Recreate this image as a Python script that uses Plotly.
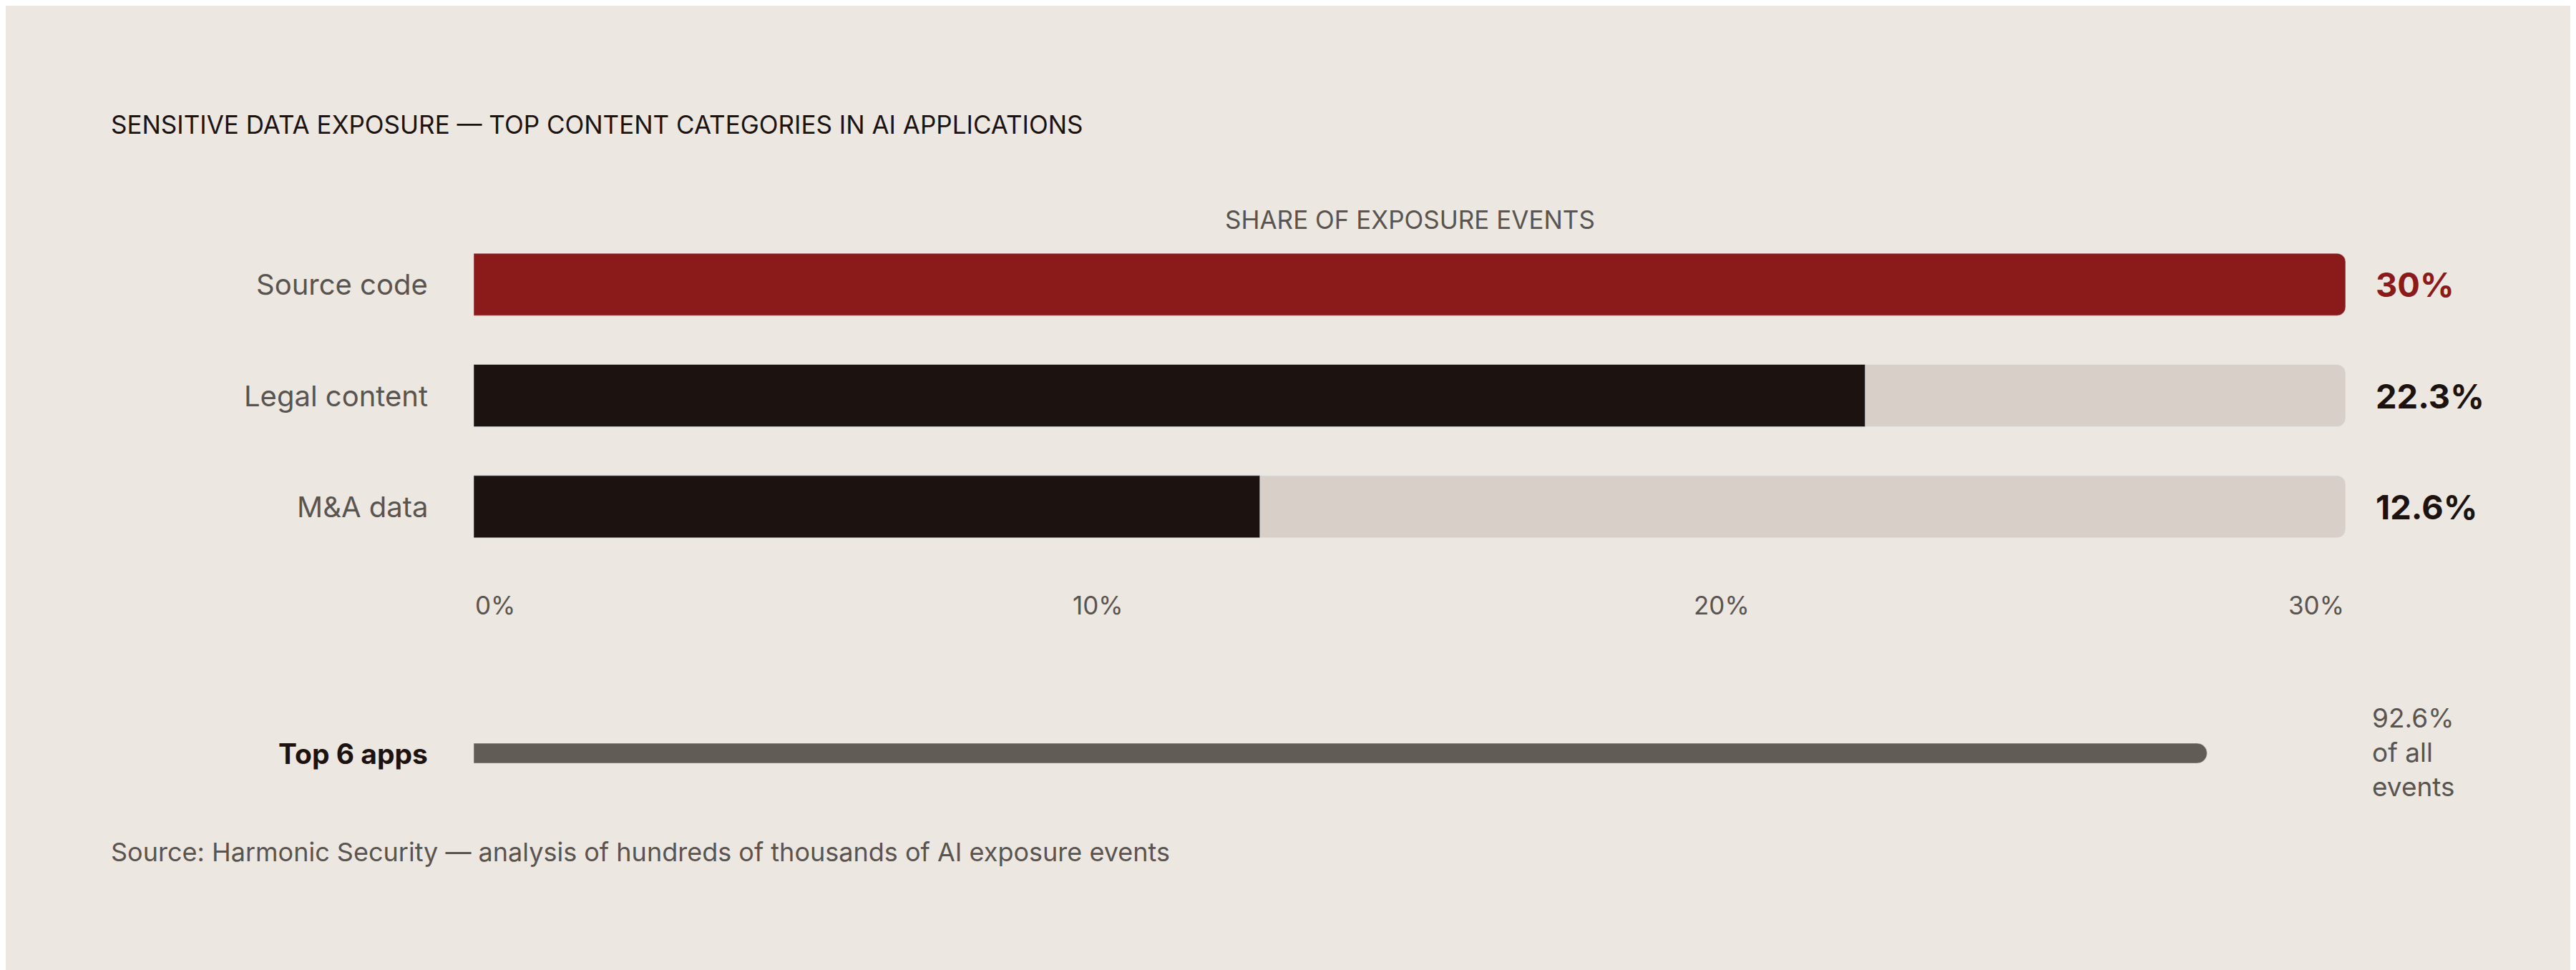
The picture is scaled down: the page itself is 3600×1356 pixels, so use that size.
import plotly.graph_objects as go

categories = ["Source code", "Legal content", "M&A data"]
values = [30, 22.3, 12.6]
value_labels = ["30%", "22.3%", "12.6%"]
axis_max = 30
tick_vals = [0, 10, 20, 30]
tick_text = ["0%", "10%", "20%", "30%"]
top_label = "Top 6 apps"
top_value = 92.6

W, H = 3600, 1356
BG = "#ECE7E0"
RED = "#8B1A1A"
DARK = "#1C1311"
TRACK = "#D8CFC8"
GREY = "#625C56"
TXT = "#5A5450"
FONT = "Inter"

def px(x):
    return x / W
def py(y):
    return 1 - y / H

x0, x1 = 654, 3270
fig = go.Figure()
fig.add_bar(y=list(range(3)), x=[axis_max]*3, orientation="h", marker=dict(color=TRACK, cornerradius=12),
            width=0.56, hoverinfo="skip", xaxis="x", yaxis="y")
fig.add_bar(y=list(range(3)), x=values, orientation="h",
            marker=dict(color=[RED, DARK, DARK], cornerradius=12), width=0.56, xaxis="x", yaxis="y")
fig.add_bar(y=[0], x=[top_value], orientation="h", marker=dict(color=GREY, cornerradius=14),
            width=0.5, xaxis="x2", yaxis="y2")

ann = []
ann.append(dict(text="SENSITIVE DATA EXPOSURE — TOP CONTENT CATEGORIES IN AI APPLICATIONS", x=px(145), y=py(166),
                xref="paper", yref="paper", xanchor="left", yanchor="middle", showarrow=False,
                font=dict(size=35, color=DARK, family=FONT)))
ann.append(dict(text="SHARE OF EXPOSURE EVENTS", x=15, y=py(299), xref="x", yref="paper",
                xanchor="center", yanchor="middle", showarrow=False, font=dict(size=35, color=TXT, family=FONT)))
for i, c in enumerate(categories):
    ann.append(dict(text=c, x=px(592), y=i, xref="paper", yref="y", xanchor="right", yanchor="middle",
                    showarrow=False, font=dict(size=40, color=TXT, family=FONT)))
    ann.append(dict(text="<b>%s</b>" % value_labels[i], x=px(3310), y=i, xref="paper", yref="y",
                    xanchor="left", yanchor="middle", showarrow=False,
                    font=dict(size=47, color=RED if i == 0 else DARK, family=FONT)))
for v, t in zip(tick_vals, tick_text):
    anchor = "left" if v == 0 else ("right" if v == axis_max else "center")
    ann.append(dict(text=t, x=v, y=py(838), xref="x", yref="paper", xanchor=anchor, yanchor="middle",
                    showarrow=False, font=dict(size=35, color=TXT, family=FONT)))
ann.append(dict(text="<b>%s</b>" % top_label, x=px(592), y=0, xref="paper", yref="y2", xanchor="right",
                yanchor="middle", showarrow=False, font=dict(size=39, color=DARK, family=FONT)))
ann.append(dict(text="%.1f%%<br>of all<br>events" % top_value, x=px(3305), y=py(1043), xref="paper", yref="paper",
                xanchor="left", yanchor="middle", align="left", showarrow=False,
                font=dict(size=37, color=TXT, family=FONT)))
ann.append(dict(text="Source: Harmonic Security — analysis of hundreds of thousands of AI exposure events",
                x=px(145), y=py(1183), xref="paper", yref="paper", xanchor="left", yanchor="middle",
                showarrow=False, font=dict(size=36, color=TXT, family=FONT)))

fig.update_layout(
    width=W, height=H, margin=dict(l=0, r=0, t=0, b=0), paper_bgcolor=BG, plot_bgcolor=BG,
    barmode="overlay", showlegend=False, annotations=ann,
    xaxis=dict(domain=[px(x0), px(x1)], range=[0, axis_max], visible=False, fixedrange=True),
    yaxis=dict(domain=[py(778), py(312)], range=[2.5, -0.5], visible=False),
    xaxis2=dict(domain=[px(x0), px(x1)], range=[0, 100], visible=False, anchor="y2"),
    yaxis2=dict(domain=[py(1073), py(1017)], range=[-0.5, 0.5], visible=False, anchor="x2"),
)
fig.write_html("out.html")
